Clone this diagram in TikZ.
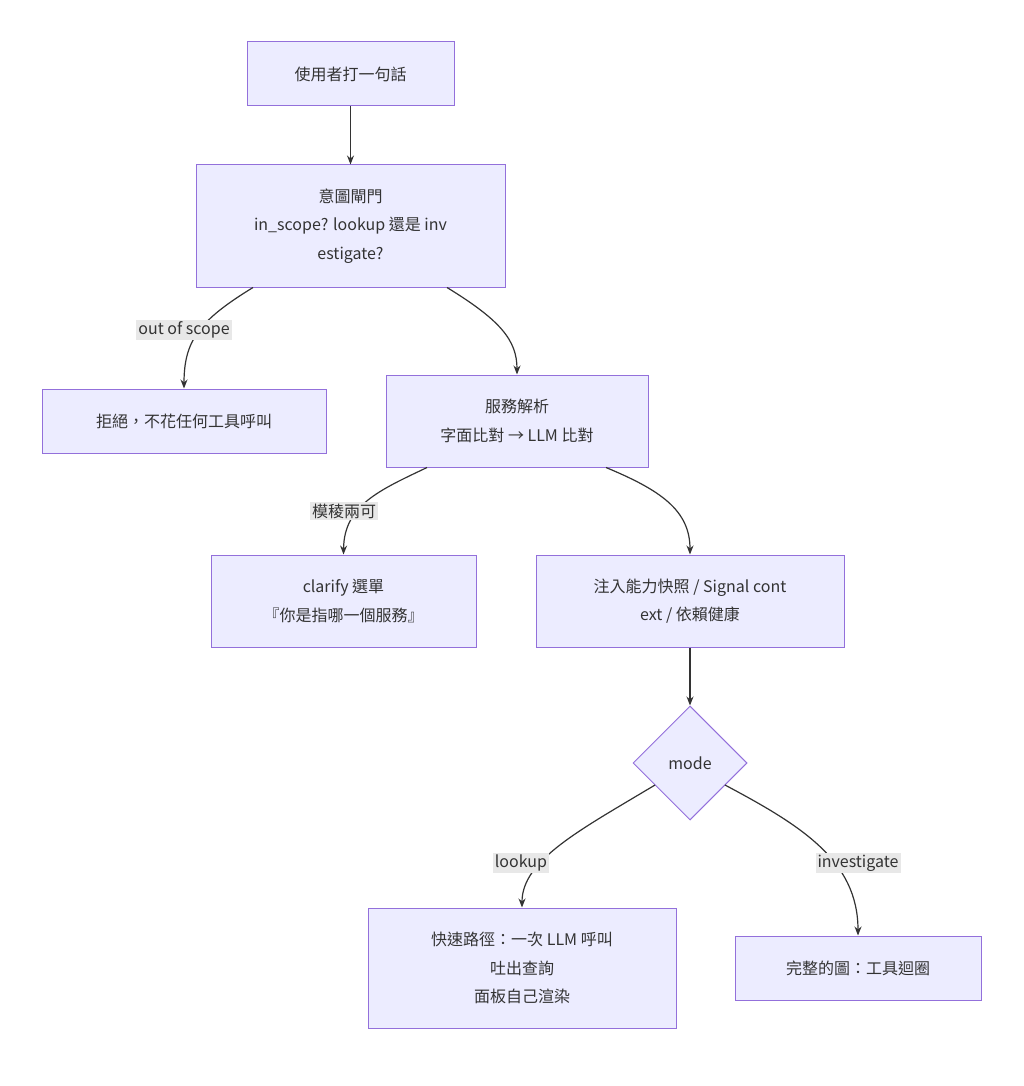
\documentclass[tikz,border=0pt]{standalone}
\usepackage{fontspec}
\setmainfont{Noto Sans CJK TC}
\usetikzlibrary{shapes.geometric,arrows.meta}
\definecolor{nfill}{HTML}{ECECFF}
\definecolor{nline}{HTML}{9370DB}
\definecolor{txt}{HTML}{333333}
\definecolor{lbg}{HTML}{E8E8E8}
\begin{document}
\begin{tikzpicture}[x=1pt,y=-1pt,
  box/.style={draw=nline,fill=nfill,line width=1pt,align=center,text=txt,font=\fontsize{16}{28.5}\selectfont,inner sep=0pt},
  dia/.style={draw=nline,fill=nfill,line width=1pt,diamond,text=txt,font=\fontsize{16}{20}\selectfont,minimum width=114pt,minimum height=114pt,inner sep=0pt,aspect=1},
  lab/.style={fill=lbg,text=txt,font=\fontsize{16}{20}\selectfont,inner sep=2pt},
  arr/.style={draw=txt,line width=1.2pt,-{Stealth[length=9pt,width=7pt]}}]
\useasboundingbox (0,0) rectangle (1024,1086);
\node[box,minimum width=207pt,minimum height=64pt] (A) at (350.5,74) {使用者打一句話};
\node[box,minimum width=309pt,minimum height=122pt] (B) at (350.5,226) {意圖閘門\\in\_scope? lookup 還是 inv\\estigate?};
\node[box,minimum width=284pt,minimum height=64pt] (C) at (184,421) {拒絕，不花任何工具呼叫};
\node[box,minimum width=262pt,minimum height=92pt] (D) at (517,421) {服務解析\\字面比對 → LLM 比對};
\node[box,minimum width=265pt,minimum height=92pt] (E) at (343.5,601) {clarify 選單\\『你是指哪一個服務』};
\node[box,minimum width=308pt,minimum height=92pt] (F) at (690,601) {注入能力快照 / Signal cont\\ext / 依賴健康};
\node[dia] (G) at (690,763) {mode};
\node[box,minimum width=308pt,minimum height=120pt] (H) at (522,968) {快速路徑：一次 LLM 呼叫\\吐出查詢\\面板自己渲染};
\node[box,minimum width=246pt,minimum height=64pt] (I) at (858,968) {完整的圖：工具迴圈};
\draw[arr] (A) -- (B);
\draw[arr] ([xshift=-97.5pt]B.south) .. controls (200,320) and (184,340) .. (C.north);
\node[lab] (l1) at (184,330) {out of scope};
\draw[arr] ([xshift=96.5pt]B.south) .. controls (500,320) and (517,340) .. (D.north);
\draw[arr] ([xshift=-90pt]D.south) .. controls (380,490) and (344,505) .. (E.north);
\node[lab] (l2) at (344,511) {模稜兩可};
\draw[arr] ([xshift=89pt]D.south) .. controls (660,490) and (690,510) .. (F.north);
\draw[arr] (F) -- (G);
\draw[arr] (655,785) .. controls (580,830) and (522,860) .. (H.north);
\node[lab] (l3) at (521,863) {lookup};
\draw[arr] (725,785) .. controls (800,825) and (858,860) .. (I.north);
\node[lab] (l4) at (858,863) {investigate};
\end{tikzpicture}
\end{document}
